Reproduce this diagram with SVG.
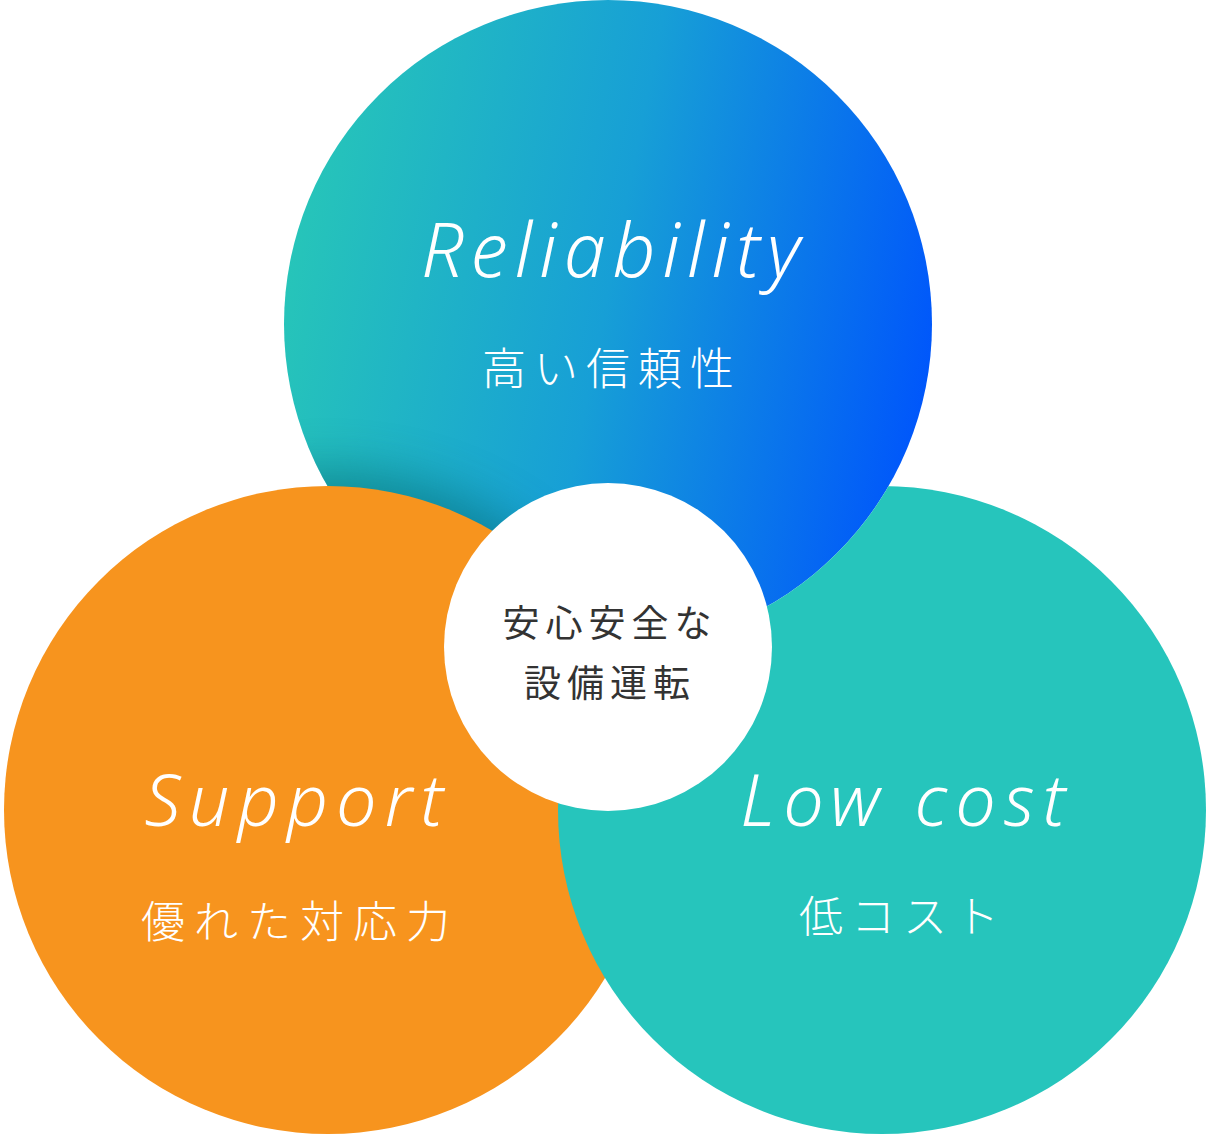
<svg xmlns="http://www.w3.org/2000/svg" width="1208" height="1134" viewBox="0 0 1208 1134">
<defs>
<linearGradient id="gBlue" x1="0" y1="0.35" x2="1" y2="0.55">
<stop offset="0" stop-color="#27c6b8"/>
<stop offset="0.5" stop-color="#179fd6"/>
<stop offset="1" stop-color="#0057fb"/>
</linearGradient>
<clipPath id="clipTop"><circle cx="608" cy="324" r="324"/></clipPath>
<mask id="maskTeal" maskUnits="userSpaceOnUse" x="0" y="0" width="1208" height="1134">
<rect x="0" y="0" width="1208" height="1134" fill="#fff"/>
<circle cx="608" cy="324" r="324" fill="#000"/>
</mask>
<filter id="blur" x="-20%" y="-20%" width="140%" height="140%"><feGaussianBlur stdDeviation="24"/></filter>
<style>
.en{font-family:"Noto Sans","Open Sans","Liberation Sans",sans-serif;font-style:italic;font-weight:300;fill:#fff;text-anchor:middle}
.jp{font-family:"Noto Sans CJK JP","Noto Sans",sans-serif;font-weight:300;fill:#fff;text-anchor:middle}
.ct{font-family:"Noto Sans CJK JP","Noto Sans",sans-serif;font-weight:400;fill:#333;text-anchor:middle;font-size:37px;letter-spacing:6px}
</style>
</defs>
<g id="reliability">
<circle cx="608" cy="324" r="324" fill="url(#gBlue)"/>
<g clip-path="url(#clipTop)"><circle cx="328" cy="800" r="330" fill="#06606b" opacity="0.5" filter="url(#blur)"/></g>
</g>
<g id="support">
<circle cx="328" cy="810" r="324" fill="#f7941e"/>
</g>
<g id="lowcost">
<circle cx="882" cy="810" r="324" fill="#26c5bc" mask="url(#maskTeal)"/>
</g>
<g id="connectors"></g>
<g id="center">
<circle cx="608" cy="647" r="164" fill="#fff"/>
<text class="ct" x="610" y="637">安心安全な</text>
<text class="ct" x="610" y="697">設備運転</text>
</g>
<g id="labels-reliability">
<text class="en" x="614" y="277" font-size="75" letter-spacing="7">Reliability</text>
<text class="jp" x="612" y="385" font-size="44" letter-spacing="8">高い信頼性</text>
</g>
<g id="labels-support">
<text class="en" x="298" y="826" font-size="72" letter-spacing="8">Support</text>
<text class="jp" x="300" y="938" font-size="44" letter-spacing="9">優れた対応力</text>
</g>
<g id="labels-lowcost">
<text class="en" x="907" y="826" font-size="72" letter-spacing="8">Low cost</text>
<text class="jp" x="903" y="933" font-size="44" letter-spacing="8">低コスト</text>
</g>
</svg>
